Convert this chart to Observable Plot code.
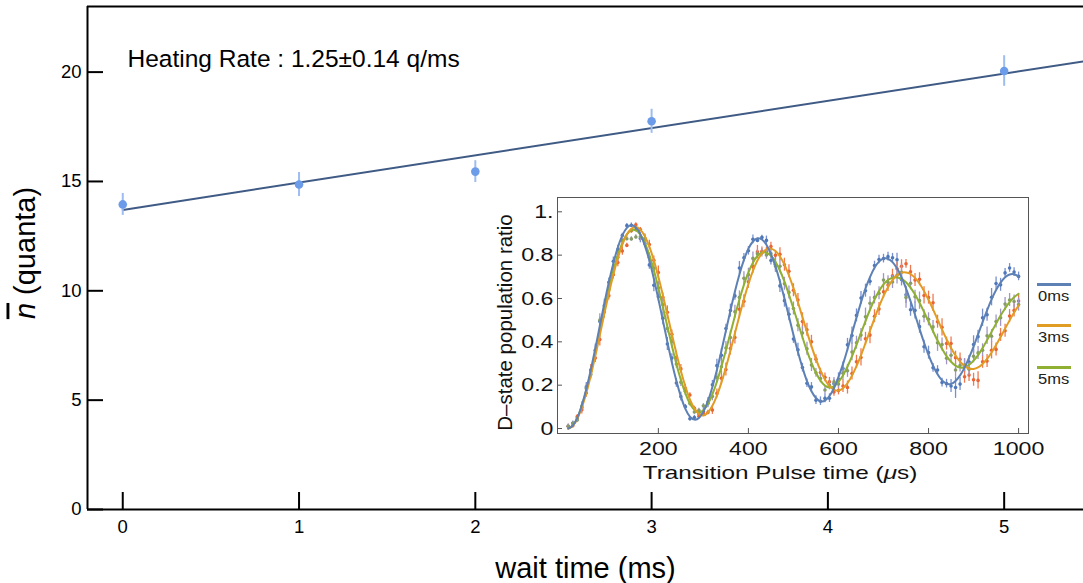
<!DOCTYPE html>
<html><head><meta charset="utf-8">
<script src="https://cdn.jsdelivr.net/npm/d3@7"></script>
<script src="https://cdn.jsdelivr.net/npm/@observablehq/plot@0.6"></script>
<style>
html,body{margin:0;padding:0;background:#fff;}
#wrap{position:relative;width:1083px;height:583px;overflow:hidden;font-family:"Liberation Sans",Arial,sans-serif;}
#wrap svg{position:absolute;}
.legline{position:absolute;height:3px;width:34px;}
.legtxt{position:absolute;line-height:15px;transform-origin:left center;color:#222;white-space:nowrap;}
</style></head><body><div id="wrap"></div>
<script>
const FONT = "Liberation Sans, Arial, sans-serif";
// ---------- main chart data ----------
const waitTimes = [0, 1, 2, 3, 5];
const nbar = [13.95, 14.86, 15.45, 17.75, 20.05];
const nbarErr = [0.5, 0.55, 0.5, 0.55, 0.7];
const fitWait = [0, 5.45];
const fitNbar = [13.70, 20.49];
const xTicksMain = [0, 1, 2, 3, 4, 5];
const yTicksMain = [0, 5, 10, 15, 20];
const xDomainMain = [-0.2, 5.45];
const yDomainMain = [0, 23];
const heatingLabel = "Heating Rate : 1.25±0.14 q/ms";

// ---------- inset data ----------
const pulseStep = 10;
const pulseTimes = d3.range(0, 1001, pulseStep);
const seriesNames = ["0ms", "3ms", "5ms"];
const blueFit = [0.000,0.014,0.049,0.107,0.182,0.271,0.370,0.474,0.577,0.675,
0.762,0.836,0.891,0.926,0.938,0.928,0.897,0.844,0.775,0.691,
0.598,0.499,0.400,0.305,0.220,0.147,0.091,0.055,0.041,0.048,
0.078,0.126,0.192,0.270,0.358,0.451,0.544,0.632,0.711,0.778,
0.830,0.863,0.878,0.872,0.848,0.805,0.748,0.678,0.600,0.517,
0.433,0.353,0.281,0.219,0.172,0.141,0.126,0.129,0.150,0.186,
0.237,0.297,0.366,0.439,0.512,0.582,0.646,0.699,0.742,0.770,
0.784,0.783,0.768,0.739,0.698,0.647,0.588,0.525,0.460,0.397,
0.340,0.290,0.250,0.222,0.207,0.206,0.219,0.245,0.281,0.327,
0.378,0.434,0.491,0.545,0.596,0.639,0.673,0.698,0.711,0.712,0.702];
const orangeFit = [0.000,0.013,0.045,0.097,0.164,0.245,0.335,0.431,0.529,0.623,
0.710,0.786,0.849,0.895,0.922,0.930,0.918,0.887,0.839,0.776,
0.700,0.615,0.526,0.435,0.347,0.265,0.194,0.135,0.093,0.067,
0.060,0.074,0.105,0.152,0.212,0.282,0.359,0.440,0.520,0.597,
0.667,0.727,0.775,0.808,0.827,0.830,0.819,0.794,0.756,0.706,
0.648,0.583,0.514,0.446,0.380,0.320,0.268,0.226,0.196,0.179,
0.175,0.186,0.209,0.244,0.288,0.338,0.394,0.451,0.508,0.562,
0.611,0.652,0.685,0.707,0.719,0.720,0.713,0.695,0.669,0.634,
0.594,0.550,0.503,0.457,0.412,0.372,0.337,0.309,0.289,0.277,
0.275,0.282,0.298,0.321,0.351,0.385,0.422,0.461,0.499,0.535,0.568];
const greenFit = [0.000,0.014,0.049,0.104,0.175,0.259,0.352,0.450,0.548,0.642,
0.728,0.800,0.857,0.896,0.915,0.914,0.895,0.856,0.800,0.730,
0.649,0.561,0.471,0.382,0.298,0.224,0.162,0.115,0.086,0.074,
0.085,0.113,0.158,0.216,0.285,0.361,0.440,0.519,0.595,0.663,
0.720,0.765,0.796,0.811,0.811,0.797,0.770,0.729,0.678,0.618,
0.554,0.487,0.421,0.358,0.303,0.257,0.221,0.198,0.189,0.195,
0.215,0.245,0.286,0.333,0.386,0.441,0.496,0.548,0.595,0.634,
0.665,0.685,0.696,0.697,0.691,0.675,0.650,0.618,0.580,0.538,
0.494,0.449,0.406,0.368,0.334,0.308,0.290,0.281,0.283,0.294,
0.313,0.339,0.371,0.408,0.446,0.484,0.521,0.554,0.583,0.606,0.622];
const bluePts = [.010,.024,.049,.097,.192,.271,.360,.494,.567,.675,
.772,.826,.891,.936,.938,.918,.877,.854,.755,.661,
.608,.509,.390,.325,.210,.147,.101,.045,.051,.068,
.078,.116,.202,.290,.338,.461,.544,.612,.741,.788,
.820,.873,.868,.882,.868,.775,.758,.658,.590,.527,
.413,.363,.281,.209,.192,.131,.126,.139,.140,.206,
.227,.277,.386,.429,.522,.602,.636,.679,.752,.780,
.784,.793,.788,.779,.688,.617,.548,.545,.470,.377,
.350,.280,.270,.212,.207,.196,.189,.205,.291,.307,
.388,.424,.511,.525,.606,.669,.663,.718,.741,.722,.702];
const orangePts = [.010,.013,.055,.087,.164,.265,.325,.411,.539,.613,
.710,.766,.819,.845,.912,.940,.918,.877,.849,.776,
.720,.605,.536,.435,.327,.275,.184,.155,.093,.057,
.070,.074,.085,.162,.232,.272,.369,.420,.550,.587,
.677,.747,.815,.818,.817,.840,.799,.804,.756,.726,
.638,.593,.494,.456,.400,.320,.258,.236,.216,.169,
.175,.196,.189,.254,.308,.328,.414,.431,.518,.552,
.631,.662,.705,.737,.749,.760,.723,.685,.689,.614,
.604,.580,.493,.467,.392,.392,.327,.319,.239,.247,
.225,.222,.308,.311,.361,.365,.432,.451,.519,.545,.588];
const greenPts = [.010,.024,.039,.104,.185,.249,.362,.500,.538,.642,
.738,.790,.867,.876,.875,.884,.885,.876,.790,.740,
.649,.571,.461,.402,.298,.214,.172,.115,.076,.084,
.105,.123,.148,.236,.285,.371,.420,.539,.605,.693,
.710,.785,.806,.811,.801,.807,.750,.749,.668,.628,
.554,.477,.441,.368,.293,.257,.231,.178,.199,.215,
.205,.255,.266,.353,.396,.431,.516,.578,.605,.624,
.685,.675,.676,.707,.721,.605,.670,.608,.590,.518,
.504,.469,.396,.388,.324,.338,.270,.291,.293,.274,
.333,.349,.361,.428,.426,.494,.511,.574,.593,.586,.572];
// error bar half-lengths, in hundredths
const blueErr = [1,1,1,2,2,2,3,2,3,2, 2,2,1,1,1,1,2,2,2,3, 2,3,3,2,2,2,1,1,1,1, 2,2,2,3,3,2,3,2,3,2,
2,2,1,1,2,2,3,3,3,3, 2,3,2,2,2,2,2,2,2,2, 3,3,3,4,3,3,3,2,2,2, 2,2,2,3,3,4,3,4,3,3,
3,2,2,2,2,3,5,3,3,3, 4,3,4,3,4,3,3,2,2,2,2];
const orangeErr = [1,1,1,2,2,3,2,3,3,2, 2,2,2,1,1,1,1,2,2,2, 3,2,3,2,3,2,2,1,1,1, 1,1,2,2,3,3,3,3,4,3,
3,3,3,2,2,2,2,3,3,3, 3,3,4,3,3,2,2,2,2,2, 2,3,3,3,3,4,3,4,3,3, 3,3,3,3,3,2,3,3,3,4,
3,4,3,4,3,3,3,3,3,3, 3,4,3,3,4,3,3,3,3,3,3];
const greenErr = [1,1,1,2,2,2,2,3,2,3, 2,2,2,1,1,1,2,2,2,2, 3,3,2,3,2,2,2,1,1,1, 1,2,2,2,3,3,3,3,3,3,
3,3,2,2,2,2,3,3,3,3, 3,3,3,3,3,2,2,2,2,2, 2,3,3,4,3,3,4,3,3,3, 3,3,3,4,4,5,3,3,4,3,
3,3,4,3,3,3,3,3,3,3, 3,3,3,4,3,3,4,3,3,3,3];
const insetXTicks = [200, 400, 600, 800, 1000];
const insetYTicks = [0, 0.2, 0.4, 0.6, 0.8, 1];
const insetYTickLabels = ["0", "0.2", "0.4", "0.6", "0.8", "1."];
const insetXDomain = [-24, 1022];
const insetYDomain = [-0.023, 1.066];

// colours
const lineColors = ["#5E81B5", "#E19C24", "#8FB032"];
const pointColors = ["#4f78bb", "#ea6535", "#879c68"];
const errColors = ["#7690cf", "#f07a50", "#a296c8"];

// ---------- main chart ----------
const mainRows = waitTimes.map((x, i) => ({x, y: nbar[i], e: nbarErr[i]}));
const fitRows = fitWait.map((x, i) => ({x, y: fitNbar[i]}));

const main = Plot.plot({
  width: 1083, height: 583,
  marginLeft: 87, marginTop: 6, marginBottom: 74, marginRight: 0,
  x: {domain: xDomainMain},
  y: {domain: yDomainMain},
  style: {fontFamily: FONT, background: "transparent", color: "#000", overflow: "visible"},
  marks: [
    Plot.ruleY([yDomainMain[1]], {stroke: "#000", strokeWidth: 2}),
    Plot.ruleX([xDomainMain[0]], {stroke: "#000", strokeWidth: 2}),
    Plot.ruleY([yDomainMain[0]], {stroke: "#000", strokeWidth: 2}),
    Plot.axisX({ticks: xTicksMain, tickSize: 17, dy: -17, strokeWidth: 2, tickFormat: () => "", label: null}),
    Plot.axisX({ticks: xTicksMain, tickSize: 0, tickPadding: 10, fontSize: 18.5, tickFormat: d => String(d), label: null}),
    Plot.axisY({ticks: yTicksMain, tickSize: 16, dx: 16, strokeWidth: 2, tickFormat: () => "", label: null}),
    Plot.axisY({ticks: yTicksMain, tickSize: 0, tickPadding: 6, fontSize: 18.5, tickFormat: d => String(d), label: null}),
    Plot.line(fitRows, {x: "x", y: "y", stroke: "#3f5b85", strokeWidth: 2}),
    Plot.ruleX(mainRows, {x: "x", y1: d => d.y - d.e, y2: d => d.y + d.e, stroke: "#9dbdf0", strokeWidth: 2}),
    Plot.dot(mainRows, {x: "x", y: "y", r: 4.3, fill: "#6c9ce9"}),
    Plot.text([heatingLabel], {text: d => d, frameAnchor: "top-left", dx: 40, dy: 60, textAnchor: "start", lineAnchor: "bottom", fontSize: 24.5}),
    Plot.text(["wait time (ms)"], {text: d => d, frameAnchor: "bottom", dy: 68, textAnchor: "middle", lineAnchor: "bottom", fontSize: 29}),
    Plot.text(["n (quanta)"], {text: d => d, frameAnchor: "left", dx: -53, dy: -5, rotate: -90, textAnchor: "middle", lineAnchor: "bottom", fontSize: 29})
  ]
});
main.style.left = "0px"; main.style.top = "0px";
d3.select(main).selectAll("text").filter(function() { return this.textContent === "n (quanta)"; })
  .each(function() {
    const t = d3.select(this); t.text(null);
    t.append("tspan").attr("font-style", "italic").attr("text-decoration", "overline").text("n");
    t.append("tspan").text(" (quanta)");
  });

// ---------- inset ----------
const ptsArr = [bluePts, orangePts, greenPts];
const errArr = [blueErr, orangeErr, greenErr];
const fitArr = [blueFit, orangeFit, greenFit];
const insetMarks = [Plot.frame({fill: "white", stroke: "#555", strokeWidth: 1})];
seriesNames.forEach((name, s) => {
  const rows = pulseTimes.map((t, i) => ({t, v: ptsArr[s][i], e: errArr[s][i] / 100}));
  insetMarks.push(Plot.ruleX(rows, {x: "t", y1: d => d.v - d.e, y2: d => d.v + d.e, stroke: errColors[s], strokeWidth: 1.3}));
  insetMarks.push(Plot.dot(rows, {x: "t", y: "v", r: 1.8, fill: pointColors[s]}));
});
[2, 1, 0].forEach(s => {
  const rows = pulseTimes.map((t, i) => ({t, v: fitArr[s][i]}));
  insetMarks.push(Plot.line(rows, {x: "t", y: "v", stroke: lineColors[s], strokeWidth: 2, curve: "natural"}));
});
insetMarks.push(
  Plot.axisY({ticks: insetYTicks, tickSize: 5, dx: 5, stroke: "#555", tickFormat: () => "", label: null}),
  Plot.axisY({ticks: insetYTicks, tickSize: 0, tickPadding: 4, fontSize: 19, tickFormat: d => insetYTickLabels[insetYTicks.indexOf(d)], label: null}),
  Plot.axisX({ticks: insetXTicks, tickSize: 5, dy: -5, stroke: "#555", tickFormat: () => "", label: null}),
  Plot.axisX({ticks: insetXTicks, tickSize: 0, tickPadding: 8, fontSize: 19, tickFormat: d => String(d), label: null}),
  Plot.text(["Transition Pulse time (μs)"], {text: d => d, frameAnchor: "bottom", dx: -13, dy: 45, textAnchor: "middle", lineAnchor: "bottom", fontSize: 19}),
  Plot.text(["D–state population ratio"], {text: d => d, frameAnchor: "left", dx: -46, dy: 7, rotate: -90, textAnchor: "middle", lineAnchor: "bottom", fontSize: 20.5})
);
const inset = Plot.plot({
  width: 560, height: 300,
  marginLeft: 77, marginTop: 7, marginRight: 12, marginBottom: 57,
  x: {domain: insetXDomain},
  y: {domain: insetYDomain},
  style: {fontFamily: FONT, background: "transparent", color: "#111", overflow: "visible"},
  marks: insetMarks
});
inset.style.left = "480px"; inset.style.top = "190px";
// horizontally stretched lettering, as in the reference inset
d3.select(inset).selectAll("text").each(function() {
  const t = d3.select(this);
  const tr = t.attr("transform") || "";
  if (tr.includes("rotate")) return;
  const sx = this.textContent === "Transition Pulse time (μs)" ? 1.28 : 1.22;
  const xa = t.attr("x"), ya = t.attr("y");
  let tx = 0, ty = 0;
  if (xa != null && !isNaN(+xa)) { tx = +xa; t.attr("x", null); }
  if (ya != null && !isNaN(+ya)) { ty = +ya; t.attr("y", null); }
  t.attr("transform", `${tr} translate(${tx},${ty}) scale(${sx},1)`);
});
d3.select(inset).selectAll("text").filter(function() { return this.textContent === "Transition Pulse time (μs)"; })
  .each(function() {
    const t = d3.select(this); t.text(null);
    t.append("tspan").text("Transition Pulse time (");
    t.append("tspan").attr("font-style", "italic").text("μ");
    t.append("tspan").text("s)");
  });

const wrap = document.getElementById("wrap");
wrap.appendChild(main);
wrap.appendChild(inset);

// legend (line swatches)
const legendTop = [283, 324, 366];
seriesNames.forEach((name, s) => {
  const l = document.createElement("div");
  l.className = "legline"; l.style.left = "1037px"; l.style.top = legendTop[s] + "px"; l.style.background = lineColors[s];
  wrap.appendChild(l);
  const tx = document.createElement("div");
  tx.className = "legtxt"; tx.style.left = "1038px"; tx.style.top = (legendTop[s] + 6) + "px";
  tx.style.fontSize = "14px"; tx.style.transform = "scaleX(1.18)";
  tx.textContent = name;
  wrap.appendChild(tx);
});
</script></body></html>
